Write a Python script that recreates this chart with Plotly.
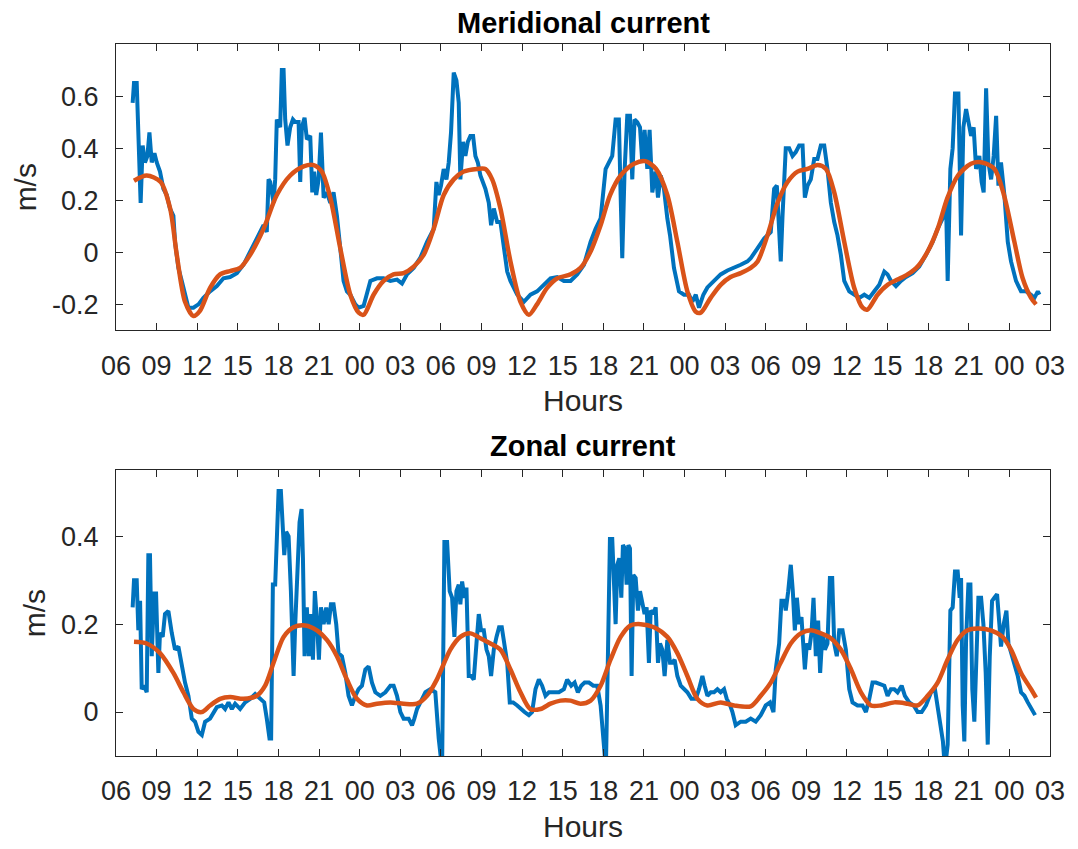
import plotly.graph_objects as go

# ---------------- data (hours since 06:00 of day 1, m/s) ----------------
mer_t = [1.23,1.33,1.53,1.65,1.82,1.97,2.14,2.32,2.47,2.64,2.84,3.01,3.25,3.50,3.75,3.99,4.24,4.36,4.61,4.86,5.10,5.35,5.72,6.09,6.46,6.95,7.45,7.94,8.43,8.93,9.42,9.91,10.40,10.90,11.14,11.27,11.39,11.64,11.76,11.88,12.13,12.25,12.38,12.50,12.67,12.87,13.07,13.24,13.49,13.61,13.73,13.93,14.10,14.35,14.50,14.64,14.79,14.97,15.14,15.34,15.58,15.83,16.07,16.32,16.57,16.81,17.06,17.31,17.68,17.92,18.29,18.54,18.79,19.28,19.77,20.27,20.76,21.13,21.50,21.99,22.49,22.98,23.47,
         23.67,23.84,24.01,24.21,24.41,24.58,24.75,24.95,25.15,25.32,25.44,25.64,25.81,25.99,26.18,26.38,26.55,26.73,26.92,27.12,27.29,27.54,27.71,27.91,28.16,28.40,28.65,28.90,29.14,29.64,30.13,30.62,31.11,31.61,32.10,32.59,33.09,33.58,34.07,34.57,35.06,35.43,35.80,36.17,36.42,36.66,36.91,37.15,37.28,37.40,37.57,37.77,37.97,38.14,38.31,38.51,38.71,38.88,39.05,39.25,39.42,39.62,39.87,40.04,40.24,40.48,40.73,40.93,41.22,41.59,41.96,42.33,42.58,42.83,43.07,43.39,43.69,44.18,44.67,45.17,45.66,46.15,46.65,
         46.89,47.39,47.88,48.37,48.62,48.82,48.99,49.11,49.24,49.48,49.73,49.98,50.22,50.47,50.72,50.89,51.09,51.33,51.58,51.82,52.07,52.32,52.56,52.81,53.06,53.30,53.55,53.80,54.17,54.54,54.91,55.28,55.65,56.02,56.39,56.76,57.00,57.25,57.62,57.99,58.36,58.85,59.34,59.84,60.33,60.70,61.07,61.32,61.44,61.64,61.81,61.98,62.23,62.43,62.60,62.80,62.97,63.17,63.36,63.54,63.78,63.95,64.10,64.28,64.45,64.65,64.84,65.02,65.19,65.38,65.63,65.88,66.12,66.49,66.86,67.23,67.60,67.85,68.10,68.22]
mer_v = [0.574,0.65,0.65,0.47,0.19,0.41,0.345,0.37,0.46,0.345,0.38,0.345,0.31,0.244,0.22,0.168,0.14,0.04,-0.06,-0.11,-0.163,-0.213,-0.213,-0.2,-0.175,-0.15,-0.13,-0.1,-0.095,-0.08,-0.048,0.003,0.053,0.104,0.078,0.28,0.27,0.19,0.28,0.51,0.48,0.70,0.70,0.51,0.41,0.48,0.51,0.50,0.50,0.27,0.48,0.517,0.434,0.447,0.23,0.31,0.22,0.28,0.46,0.21,0.23,0.19,0.23,0.14,0.015,-0.11,-0.15,-0.163,-0.2,-0.213,-0.206,-0.163,-0.11,-0.1,-0.1,-0.11,-0.105,-0.12,-0.085,-0.06,-0.02,0.04,0.09,
         0.27,0.22,0.256,0.32,0.28,0.345,0.46,0.69,0.66,0.574,0.28,0.424,0.37,0.424,0.447,0.447,0.37,0.345,0.295,0.27,0.244,0.19,0.104,0.168,0.116,0.116,0.028,-0.074,-0.11,-0.163,-0.19,-0.163,-0.15,-0.125,-0.1,-0.095,-0.11,-0.11,-0.085,-0.048,0.04,0.09,0.13,0.32,0.345,0.37,0.51,0.51,0.22,-0.023,0.31,0.524,0.524,0.28,0.51,0.50,0.48,0.345,0.47,0.32,0.47,0.23,0.31,0.21,0.295,0.244,0.13,0.065,-0.06,-0.15,-0.163,-0.163,-0.19,-0.163,-0.213,-0.163,-0.135,-0.11,-0.085,-0.07,-0.06,-0.048,-0.035,
         -0.023,0.015,0.053,0.078,0.244,0.256,0.09,-0.035,0.14,0.40,0.40,0.37,0.385,0.41,0.41,0.21,0.256,0.28,0.358,0.358,0.41,0.41,0.32,0.19,0.116,0.065,-0.01,-0.11,-0.15,-0.163,-0.175,-0.163,-0.175,-0.15,-0.125,-0.074,-0.085,-0.11,-0.13,-0.11,-0.095,-0.08,-0.055,-0.01,0.04,0.09,0.13,0.19,-0.11,0.32,0.40,0.61,0.61,0.065,0.48,0.55,0.51,0.447,0.48,0.32,0.37,0.27,0.23,0.63,0.345,0.28,0.37,0.524,0.256,0.345,0.22,0.04,-0.035,-0.11,-0.15,-0.15,-0.163,-0.175,-0.15,-0.163]

mer_fit_t = [1.33,2.27,3.3,4.0,4.49,5.1,5.72,6.2,6.95,7.69,8.43,9.17,9.91,10.9,11.88,12.87,13.86,14.6,15.2,15.83,16.57,17.31,17.93,18.3,19.03,19.77,20.5,21.25,21.99,22.73,23.47,24.21,24.95,25.69,26.68,27.29,27.79,28.4,29.14,29.88,30.5,31.1,31.85,32.6,33.58,34.32,35.06,35.8,36.5,37.28,38.27,39.1,39.9,40.73,41.47,42.21,42.83,43.2,43.93,44.67,45.4,46.15,46.89,47.4,48.13,48.87,49.61,50.35,51.09,51.83,52.45,53.06,53.8,54.54,55.16,55.52,56.26,57.0,57.74,58.48,59.22,59.96,60.7,61.43,62.2,63.16,64.0,64.9,65.6,66.37,66.98,67.6,67.97]
mer_fit_v = [0.275,0.295,0.27,0.168,-0.01,-0.19,-0.245,-0.225,-0.137,-0.085,-0.072,-0.06,-0.01,0.09,0.22,0.295,0.33,0.335,0.31,0.21,0.015,-0.163,-0.232,-0.24,-0.163,-0.11,-0.085,-0.08,-0.055,-0.01,0.09,0.22,0.28,0.31,0.32,0.32,0.28,0.168,-0.035,-0.19,-0.24,-0.2,-0.137,-0.1,-0.085,-0.06,0.003,0.104,0.22,0.295,0.34,0.35,0.32,0.22,0.04,-0.15,-0.228,-0.232,-0.175,-0.125,-0.095,-0.08,-0.06,-0.035,0.065,0.19,0.27,0.31,0.32,0.335,0.32,0.23,0.04,-0.137,-0.213,-0.22,-0.163,-0.125,-0.105,-0.085,-0.055,0.003,0.09,0.21,0.295,0.34,0.345,0.32,0.22,0.04,-0.1,-0.175,-0.2]

zon_t = [1.23,1.33,1.53,1.65,1.78,1.90,2.07,2.27,2.39,2.51,2.64,2.81,2.96,3.13,3.25,3.45,3.62,3.87,4.12,4.36,4.61,4.86,5.10,5.35,5.60,5.84,6.09,6.34,6.58,6.95,7.20,7.45,7.82,8.06,8.31,8.56,8.80,9.17,9.54,9.91,10.28,10.65,10.95,11.14,11.34,11.46,11.59,11.76,11.88,12.01,12.18,12.33,12.43,12.57,12.75,12.92,13.12,13.24,13.41,13.56,13.71,13.81,13.93,14.10,14.25,14.40,14.55,14.69,14.84,14.99,15.14,15.34,15.53,15.71,15.88,16.07,16.27,16.44,16.69,16.94,17.18,17.43,17.68,17.92,18.17,18.42,18.66,18.91,19.16,19.53,19.90,20.27,20.51,20.76,21.01,21.25,21.62,21.87,22.04,22.24,22.49,22.86,23.23,23.59,23.84,
         24.09,24.26,24.46,24.65,24.83,25.00,25.15,25.32,25.44,25.57,25.74,25.89,26.06,26.23,26.43,26.63,26.80,26.97,27.17,27.37,27.54,27.71,27.91,28.11,28.30,28.50,28.70,28.90,29.09,29.34,29.64,29.88,30.18,30.50,30.74,30.99,31.24,31.48,31.73,31.98,32.35,32.72,33.09,33.33,33.63,33.88,34.12,34.37,34.62,34.94,35.26,35.55,35.80,36.05,36.19,36.34,36.49,36.66,36.79,36.91,37.03,37.18,37.33,37.45,37.60,37.72,37.85,37.97,38.09,38.22,38.39,38.56,38.71,38.88,39.05,39.20,39.37,39.50,39.69,39.87,40.04,40.19,40.36,40.53,40.73,40.93,41.10,41.27,41.47,41.72,41.96,42.21,42.51,42.83,43.07,43.32,43.49,43.69,43.94,44.18,44.43,44.67,44.92,45.12,45.37,45.54,45.78,46.15,46.52,46.89,
         47.26,47.63,48.00,48.32,48.57,48.74,48.99,49.16,49.36,49.48,49.66,49.85,50.00,50.15,50.30,50.47,50.64,50.79,50.89,51.04,51.21,51.38,51.53,51.70,51.87,52.02,52.19,52.37,52.56,52.74,52.91,53.06,53.25,53.43,53.67,53.92,54.17,54.41,54.78,55.15,55.40,55.65,55.89,56.14,56.46,56.76,57.00,57.25,57.50,57.74,58.04,58.28,58.60,58.93,59.22,59.52,59.84,60.21,60.50,60.70,60.90,61.09,61.24,61.44,61.64,61.81,61.98,62.18,62.33,62.43,62.55,62.67,62.80,62.97,63.12,63.26,63.41,63.54,63.71,63.91,64.08,64.25,64.40,64.55,64.72,64.89,65.09,65.26,65.38,65.58,65.78,65.93,66.12,66.37,66.62,66.86,67.11,67.36,67.60,67.90]
zon_v = [0.238,0.30,0.30,0.186,0.253,0.052,0.06,0.045,0.357,0.357,0.127,0.27,0.27,0.089,0.18,0.171,0.223,0.23,0.18,0.142,0.149,0.104,0.067,0.037,-0.015,-0.022,-0.045,-0.052,-0.022,-0.015,0.0,0.011,0.015,0.007,0.022,0.007,0.019,0.007,0.022,0.03,0.041,0.03,0.022,-0.015,-0.06,-0.06,0.29,0.29,0.373,0.503,0.503,0.424,0.357,0.41,0.40,0.275,0.082,0.2,0.35,0.432,0.462,0.35,0.127,0.238,0.127,0.223,0.119,0.275,0.208,0.119,0.238,0.2,0.238,0.2,0.245,0.245,0.2,0.134,0.127,0.089,0.037,0.015,0.037,0.052,0.06,0.097,0.104,0.067,0.045,0.037,0.045,0.06,0.06,0.037,0.0,-0.015,-0.015,-0.03,-0.015,0.007,0.022,0.045,0.052,0.045,-0.06,
         -0.13,0.387,0.387,0.275,0.26,0.171,0.275,0.29,0.245,0.297,0.26,0.283,0.082,0.082,0.074,0.156,0.223,0.186,0.186,0.142,0.127,0.082,0.142,0.171,0.193,0.193,0.156,0.112,0.022,0.022,0.015,0.007,0.0,-0.007,0.0,0.052,0.074,0.06,0.037,0.045,0.045,0.045,0.052,0.074,0.06,0.067,0.045,0.06,0.067,0.067,0.06,0.06,0.015,-0.06,-0.13,0.127,0.394,0.394,0.275,0.2,0.335,0.35,0.26,0.38,0.372,0.29,0.38,0.372,0.082,0.312,0.305,0.231,0.275,0.253,0.223,0.238,0.112,0.231,0.223,0.238,0.112,0.156,0.142,0.082,0.164,0.112,0.112,0.119,0.082,0.06,0.052,0.045,0.03,0.03,0.052,0.082,0.06,0.037,0.045,0.045,0.052,0.045,0.052,0.03,0.015,0.0,-0.03,-0.022,-0.022,-0.015,
         -0.022,-0.007,0.015,0.022,0.0,0.097,0.156,0.253,0.253,0.231,0.275,0.335,0.275,0.186,0.26,0.2,0.216,0.156,0.097,0.156,0.142,0.18,0.26,0.127,0.208,0.089,0.18,0.142,0.156,0.305,0.305,0.156,0.127,0.186,0.186,0.142,0.052,0.022,0.015,0.015,0.0,0.03,0.067,0.067,0.063,0.06,0.037,0.052,0.052,0.045,0.06,0.037,0.022,0.015,0.0,0.0,0.015,0.045,0.052,0.015,-0.022,-0.067,-0.13,-0.074,0.231,0.238,0.32,0.32,0.26,0.305,0.015,-0.067,0.164,0.29,0.29,0.052,-0.022,0.127,0.26,0.26,0.2,0.089,-0.074,0.127,0.253,0.26,0.268,0.2,0.149,0.2,0.231,0.156,0.134,0.104,0.082,0.045,0.037,0.022,0.007,-0.007]

zon_fit_t = [1.33,2.27,3.25,4.24,4.98,5.72,6.33,6.95,7.69,8.43,9.42,10.4,11.02,11.64,12.38,13.12,13.98,14.84,15.58,16.32,17.06,17.8,18.54,19.28,20.27,21.25,22.24,22.98,23.72,24.7,25.44,26.18,26.92,27.66,28.4,29.14,29.88,30.6,31.36,32.1,32.83,33.58,34.32,35.06,35.8,36.53,37.28,38.0,38.76,39.74,40.73,41.47,42.21,42.95,43.69,44.67,45.66,46.89,47.63,48.37,49.1,49.85,50.59,51.33,52.07,52.81,53.55,54.3,55.03,55.77,56.5,57.5,58.48,59.22,59.96,60.7,61.43,62.17,62.91,63.65,64.63,65.5,66.12,66.86,67.6,67.97]
zon_fit_v = [0.16,0.156,0.134,0.089,0.045,0.007,0.0,0.015,0.03,0.034,0.03,0.037,0.06,0.112,0.171,0.193,0.197,0.186,0.164,0.127,0.074,0.03,0.015,0.019,0.022,0.019,0.019,0.037,0.075,0.142,0.171,0.179,0.168,0.156,0.142,0.097,0.045,0.007,0.007,0.019,0.026,0.026,0.019,0.026,0.06,0.119,0.171,0.197,0.2,0.193,0.171,0.134,0.082,0.03,0.015,0.022,0.015,0.013,0.037,0.067,0.112,0.156,0.179,0.186,0.179,0.168,0.142,0.097,0.045,0.015,0.015,0.022,0.019,0.015,0.037,0.067,0.119,0.164,0.186,0.19,0.186,0.171,0.142,0.089,0.052,0.033]

tick_hours = list(range(0, 70, 3))
tick_text = ["06", "09", "12", "15", "18", "21", "00", "03"] * 3

BLUE = "#0072BD"
ORANGE = "#D95319"
AX = "#262626"
FONT = "Liberation Sans, Arial, Helvetica, sans-serif"

fig = go.Figure()
fig.add_trace(go.Scatter(x=mer_t, y=mer_v, mode="lines", line=dict(color=BLUE, width=4),
                         xaxis="x", yaxis="y", showlegend=False))
fig.add_trace(go.Scatter(x=mer_fit_t, y=mer_fit_v, mode="lines",
                         line=dict(color=ORANGE, width=4.5, shape="spline", smoothing=0.8),
                         xaxis="x", yaxis="y", showlegend=False))
fig.add_trace(go.Scatter(x=zon_t, y=zon_v, mode="lines", line=dict(color=BLUE, width=4),
                         xaxis="x2", yaxis="y2", showlegend=False))
fig.add_trace(go.Scatter(x=zon_fit_t, y=zon_fit_v, mode="lines",
                         line=dict(color=ORANGE, width=4.5, shape="spline", smoothing=0.8),
                         xaxis="x2", yaxis="y2", showlegend=False))

# page body has an 8px margin, so the figure is shifted by 8px
OFF = 8
W = 1078 - OFF
H = 849 - OFF
M_L = 116 - OFF
M_T = 44 - OFF
M_R = 28
M_B = H - (760 - OFF)
plot_h = H - M_T - M_B


def py(px):
    # px: pixel row in the reference picture
    return (H - M_B - (px - OFF)) / plot_h


xcommon = dict(range=[0, 69], tickvals=tick_hours, ticktext=tick_text, ticks="inside",
               ticklen=7, tickcolor=AX, showline=True, linecolor=AX, linewidth=1,
               mirror="ticks", showgrid=False, zeroline=False,
               tickfont=dict(family=FONT, size=27, color=AX), ticklabelstandoff=11,
               title=dict(text="Hours", font=dict(family=FONT, size=30, color=AX), standoff=10))
ycommon = dict(ticks="inside", ticklen=7, tickcolor=AX, showline=True, linecolor=AX,
               linewidth=1, mirror="ticks", showgrid=False, zeroline=False,
               tickfont=dict(family=FONT, size=27, color=AX), ticklabelstandoff=11,
               title=dict(text="m/s", font=dict(family=FONT, size=30, color=AX), standoff=6))

fig.update_layout(
    width=W, height=H,
    margin=dict(l=M_L, r=M_R, t=M_T, b=M_B),
    paper_bgcolor="white", plot_bgcolor="white",
    xaxis=dict(domain=[0, 1], anchor="y", **xcommon),
    yaxis=dict(domain=[py(332), 1], anchor="x", range=[-0.3, 0.8],
               tickvals=[-0.2, 0, 0.2, 0.4, 0.6], ticktext=["-0.2", "0", "0.2", "0.4", "0.6"],
               **ycommon),
    xaxis2=dict(domain=[0, 1], anchor="y2", **xcommon),
    yaxis2=dict(domain=[0, py(472.7)], anchor="x2", range=[-0.1, 0.55],
                tickvals=[0, 0.2, 0.4], ticktext=["0", "0.2", "0.4"], **ycommon),
    annotations=[
        dict(text="<b>Meridional current</b>", xref="paper", yref="paper", x=0.5, y=py(23),
             xanchor="center", yanchor="middle", showarrow=False, borderpad=0,
             font=dict(family=FONT, size=29, color="black")),
        dict(text="<b>Zonal current</b>", xref="paper", yref="paper", x=0.5, y=py(448),
             xanchor="center", yanchor="middle", showarrow=False, borderpad=0,
             font=dict(family=FONT, size=29, color="black")),
    ],
)

fig.write_html("out.html")
